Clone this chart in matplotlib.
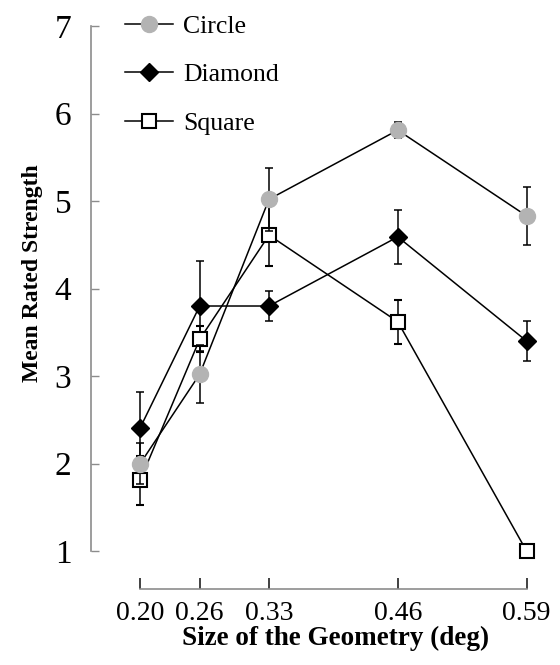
import matplotlib
matplotlib.use("Agg")
import matplotlib.pyplot as plt

plt.rcParams["font.family"] = ["Liberation Serif", "DejaVu Serif"]

# Values
sizes = [0.20, 0.26, 0.33, 0.46, 0.59]
tick_labels = ["0.20", "0.26", "0.33", "0.46", "0.59"]

circle = [2.00, 3.02, 5.02, 5.81, 4.83]
circle_err = [0.23, 0.33, 0.36, 0.09, 0.33]

diamond = [2.41, 3.80, 3.80, 4.59, 3.40]
diamond_err = [0.41, 0.51, 0.17, 0.31, 0.23]

square = [1.81, 3.42, 4.61, 3.62, 1.00]
square_err = [0.28, 0.15, 0.35, 0.25, 0.00]

fig = plt.figure(figsize=(5.6, 6.65), dpi=100)
ax = fig.add_axes([0.162, 0.1143, 0.811, 0.8466])

common = dict(color="black", linewidth=1.1, ecolor="black", elinewidth=1.1,
              capsize=3.0, capthick=1.1)

h_sq = ax.errorbar(sizes, square, yerr=square_err, fmt="-s", markersize=10,
                   markerfacecolor="white", markeredgecolor="black",
                   markeredgewidth=1.5, zorder=3, **common)
h_di = ax.errorbar(sizes, diamond, yerr=diamond_err, fmt="-D", markersize=9.5,
                   markerfacecolor="black", markeredgecolor="black",
                   zorder=3, **common)
h_ci = ax.errorbar(sizes, circle, yerr=circle_err, fmt="-o", markersize=11.5,
                   markerfacecolor="#b3b3b3", markeredgecolor="#b3b3b3",
                   zorder=4, **common)

ax.set_xlim(0.15, 0.6085)
ax.set_ylim(0.566, 7)

for side in ["top", "right"]:
    ax.spines[side].set_visible(False)
ax.spines["left"].set_bounds(1, 7)
ax.spines["bottom"].set_bounds(0.20, 0.59)
ax.spines["left"].set_color("#8c8c8c")
ax.spines["bottom"].set_color("#8c8c8c")
ax.spines["left"].set_linewidth(1.2)
ax.spines["bottom"].set_linewidth(1.2)

ax.set_yticks(range(1, 8))
ax.tick_params(axis="y", direction="in", length=6, width=1.0, color="#8c8c8c",
               labelsize=24, pad=14)
ax.set_xticks(sizes)
ax.set_xticklabels(tick_labels)
ax.tick_params(axis="x", direction="in", length=8, width=1.3, color="#333333",
               labelsize=20, pad=9)

ax.set_xlabel("Size of the Geometry (deg)", fontsize=19.5, fontweight="bold")
ax.xaxis.set_label_coords(0.54, -0.065)
ax.set_ylabel("Mean Rated Strength", fontsize=17, fontweight="bold")
ax.yaxis.set_label_coords(-0.105, 0.561)

# legend shows line + marker only, no error bars
ax.legend([h_ci[0], h_di[0], h_sq[0]], ["Circle", "Diamond", "Square"],
          loc="upper left", bbox_to_anchor=(125 / 560, 0.978),
          bbox_transform=fig.transFigure, frameon=False, fontsize=18.5,
          handlelength=1.85, handletextpad=0.4, labelspacing=1.0,
          borderpad=0, borderaxespad=0)

plt.savefig("out.png", dpi=100)
plt.close()
